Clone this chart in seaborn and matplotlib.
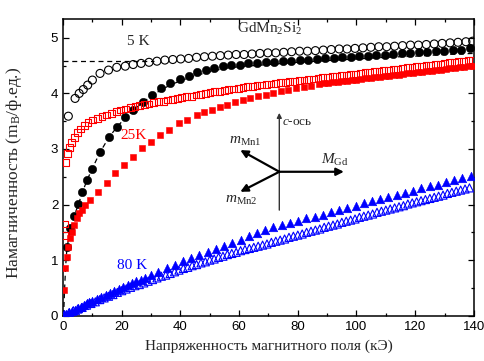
import numpy as np
import pandas as pd
import matplotlib
matplotlib.use("Agg")
import matplotlib.pyplot as plt
from matplotlib.ticker import MultipleLocator
import seaborn as sns

# ---------------- data ----------------
# 5 K, decreasing field (open circles)
x_5k_open = [1.8, 4.1, 5.5, 6.9, 8.4, 10.0, 12.6, 15.5, 18.3, 21.2, 23.9, 26.6, 29.3, 32.0,
             34.7, 37.4, 40.1, 42.8, 45.5, 48.2, 50.9, 53.6, 56.3, 59.0, 61.7, 64.4, 67.1,
             69.8, 72.5, 75.2, 77.9, 80.6, 83.3, 86.0, 88.7, 91.4, 94.1, 96.8, 99.5, 102.2,
             104.9, 107.6, 110.3, 113.0, 115.7, 118.4, 121.1, 123.8, 126.5, 129.2, 131.9,
             134.6, 137.3, 139.6]
y_5k_open = [3.59, 3.91, 4.00, 4.07, 4.15, 4.24, 4.36, 4.42, 4.47, 4.49, 4.52, 4.54, 4.56, 4.58,
             4.60, 4.61, 4.62, 4.63, 4.65, 4.66, 4.67, 4.68, 4.69, 4.70, 4.70, 4.71, 4.72,
             4.73, 4.73, 4.74, 4.75, 4.76, 4.76, 4.77, 4.78, 4.79, 4.80, 4.80, 4.81, 4.82,
             4.83, 4.84, 4.84, 4.85, 4.86, 4.87, 4.87, 4.88, 4.89, 4.90, 4.91,
             4.92, 4.93, 4.94]

# 5 K, increasing field (filled circles)
x_5k_fill = [1.3, 2.4, 3.7, 5.2, 6.6, 8.1, 9.8, 12.5, 15.5, 18.3, 21.2, 24.0, 27.2, 30.3,
             33.3, 36.5, 39.7, 42.8, 45.6, 48.7, 51.5, 54.5, 57.4, 60.3, 63.2, 66.1, 69.0,
             71.9, 74.8, 77.7, 80.6, 83.5, 86.4, 89.3, 92.2, 95.1, 98.0, 100.9, 103.8, 106.7,
             109.6, 112.5, 115.4, 118.3, 121.2, 124.1, 127.0, 129.9, 132.8, 135.7, 138.6]
y_5k_fill = [1.24, 1.57, 1.79, 2.01, 2.23, 2.44, 2.64, 2.94, 3.21, 3.40, 3.57, 3.71, 3.85, 3.98,
             4.09, 4.18, 4.26, 4.32, 4.38, 4.42, 4.45, 4.49, 4.51, 4.52, 4.54, 4.55, 4.56,
             4.57, 4.58, 4.59, 4.60, 4.61, 4.62, 4.63, 4.64, 4.65, 4.66, 4.67, 4.68, 4.69,
             4.70, 4.71, 4.72, 4.73, 4.74, 4.75, 4.76, 4.77, 4.78, 4.79, 4.81]

# 5 K fit curve (dashed)
x_fit = [0.2, 0.5, 0.9, 1.3, 2.4, 3.7, 5.2, 6.6, 8.1, 9.8, 12.5, 15.5, 18.3, 21.2, 24.0, 27.2,
         30.3, 33.3, 36.5, 39.7, 42.8, 45.6, 48.7, 51.5, 55.0, 60.0, 70.0, 80.0, 90.0, 100.0,
         110.0, 120.0, 130.0, 140.0]
y_fit = [0.0, 0.45, 0.90, 1.20, 1.55, 1.78, 2.00, 2.22, 2.43, 2.63, 2.93, 3.20, 3.39, 3.56, 3.70,
         3.84, 3.96, 4.06, 4.15, 4.22, 4.28, 4.33, 4.37, 4.41, 4.45, 4.48, 4.52, 4.56, 4.59,
         4.62, 4.65, 4.67, 4.70, 4.72]
# saturation level (dashed)
x_sat = [0.0, 31.0]
y_sat = [4.58, 4.58]

# 25 K, decreasing field (open squares)
x_25k_open = [0.5, 0.6, 1.0, 1.5, 2.2, 3.0, 3.9, 4.9, 6.0, 7.2, 8.5, 10.1, 11.7, 13.3, 14.9,
              16.5, 18.1, 19.7, 21.3, 22.9, 24.5, 26.1, 27.7, 29.3, 30.9, 32.5, 34.1, 35.7,
              37.3, 38.9, 40.5, 42.1, 43.7, 45.3, 46.9, 48.5, 50.1, 51.7, 53.3, 54.9, 56.5,
              58.1, 59.7, 61.3, 62.9, 64.5, 66.1, 67.7, 69.3, 70.9, 72.5, 74.1, 75.7, 77.3,
              78.9, 80.5, 82.1, 83.7, 85.3, 86.9, 88.5, 90.1, 91.7, 93.3, 94.9, 96.5, 98.1,
              99.7, 101.3, 102.9, 104.5, 106.1, 107.7, 109.3, 110.9, 112.5, 114.1, 115.7,
              117.3, 118.9, 120.5, 122.1, 123.7, 125.3, 126.9, 128.5, 130.1, 131.7, 133.3,
              134.9, 136.5, 138.1, 139.5]
y_25k_open = [1.45, 1.65, 2.75, 2.92, 3.03, 3.12, 3.21, 3.29, 3.36, 3.42, 3.47, 3.52, 3.55,
              3.58, 3.61, 3.64, 3.67, 3.70, 3.72, 3.74, 3.76, 3.78, 3.80, 3.81, 3.83, 3.85,
              3.86, 3.88, 3.89, 3.91, 3.92, 3.94, 3.95, 3.97, 3.98, 4.00, 4.01, 4.03, 4.04,
              4.05, 4.07, 4.08, 4.09, 4.10, 4.12, 4.13, 4.14, 4.15, 4.16, 4.17, 4.18, 4.19,
              4.20, 4.21, 4.22, 4.23, 4.24, 4.25, 4.26, 4.27, 4.28, 4.29, 4.30, 4.31, 4.32,
              4.33, 4.34, 4.35, 4.36, 4.37, 4.38, 4.39, 4.40, 4.41, 4.42, 4.43, 4.44, 4.45,
              4.46, 4.47, 4.48, 4.49, 4.50, 4.51, 4.52, 4.53, 4.54, 4.55, 4.56, 4.57, 4.58,
              4.59, 4.60]

# 25 K, increasing field (filled squares)
x_25k_fill = [0.3, 0.7, 1.3, 1.8, 2.4, 3.0, 3.8, 4.7, 5.6, 6.4, 7.5, 9.2, 12.0, 14.9, 17.7,
              20.8, 23.8, 26.9, 29.9, 33.1, 36.0, 39.4, 42.2, 45.6, 48.2, 50.8, 53.4, 56.0,
              58.6, 61.2, 63.8, 66.4, 69.0, 71.6, 74.2, 76.8, 79.4, 82.0, 84.6, 87.2, 88.8,
              90.4, 92.0, 93.6, 95.2, 96.8, 98.4, 100.0, 101.6, 103.2, 104.8, 106.4, 108.0,
              109.6, 111.2, 112.8, 114.4, 116.0, 117.6, 119.2, 120.8, 122.4, 124.0, 125.6,
              127.2, 128.8, 130.4, 132.0, 133.6, 135.2, 136.8, 138.4, 139.6]
y_25k_fill = [0.46, 0.85, 1.06, 1.24, 1.39, 1.51, 1.63, 1.75, 1.84, 1.91, 1.99, 2.08, 2.22,
              2.39, 2.56, 2.71, 2.86, 3.01, 3.13, 3.25, 3.35, 3.46, 3.53, 3.61, 3.66, 3.71,
              3.76, 3.80, 3.84, 3.88, 3.92, 3.95, 3.98, 4.01, 4.04, 4.07, 4.09, 4.12, 4.14,
              4.17, 4.18, 4.19, 4.20, 4.21, 4.22, 4.23, 4.24, 4.25, 4.26, 4.27, 4.28, 4.29,
              4.30, 4.31, 4.32, 4.33, 4.34, 4.35, 4.36, 4.37, 4.38, 4.39, 4.40, 4.41, 4.42,
              4.43, 4.44, 4.45, 4.46, 4.47, 4.48, 4.49, 4.50]

# 80 K, increasing field (filled triangles)
x_80k_fill = [0.3, 1, 2, 3, 4, 5, 6, 7, 8, 9, 10, 11.5, 13, 14.5, 16, 17.5, 19, 20.5, 22, 23.5,
              25, 26.5, 28, 30, 32.5, 35.3, 38.1, 40.9, 43.7, 46.5, 49.3, 52.1, 54.9, 57.7,
              60.5, 63.3, 66.1, 68.9, 71.7, 74.5, 77.3, 80.1, 82.9, 85.7, 88.5, 91.3, 94.1,
              96.9, 99.7, 102.5, 105.3, 108.1, 110.9, 113.7, 116.5, 119.3, 122.1, 124.9,
              127.7, 130.5, 133.3, 136.1, 138.9]
y_80k_fill = [0.01, 0.03, 0.06, 0.08, 0.11, 0.14, 0.16, 0.19, 0.22, 0.24, 0.27, 0.30, 0.34,
              0.37, 0.41, 0.44, 0.48, 0.51, 0.55, 0.58, 0.62, 0.65, 0.68, 0.73, 0.79, 0.85,
              0.92, 0.98, 1.03, 1.09, 1.15, 1.20, 1.26, 1.31, 1.37, 1.43, 1.49, 1.55, 1.59,
              1.63, 1.67, 1.71, 1.75, 1.78, 1.82, 1.86, 1.90, 1.94, 1.98, 2.02, 2.06, 2.10,
              2.14, 2.17, 2.21, 2.25, 2.29, 2.33, 2.36, 2.40, 2.44, 2.48, 2.52]

# 80 K, decreasing field (open triangles)
x_80k_open = [0.5, 2, 3.5, 5, 6.5, 8, 9.5, 11, 12.5, 14, 15.5, 17, 18.5, 20, 21.5, 23, 24.5, 26,
              27.5, 29, 30.5, 32, 33.5, 35, 36.5, 38, 39.5, 41, 42.5, 44, 45.5, 47, 48.5, 50,
              51.5, 53, 54.5, 56, 57.5, 59, 60.5, 62, 63.5, 65, 66.5, 68, 69.5, 71, 72.5, 74,
              75.5, 77, 78.5, 80, 81.5, 83, 84.5, 86, 87.5, 89, 90.5, 92, 93.5, 95, 96.5, 98,
              99.5, 101, 102.5, 104, 105.5, 107, 108.5, 110, 111.5, 113, 114.5, 116, 117.5,
              119, 120.5, 122, 123.5, 125, 126.5, 128, 129.5, 131, 132.5, 134, 135.5, 137,
              138.5]
y_80k_open = [0.02, 0.05, 0.09, 0.12, 0.15, 0.19, 0.22, 0.25, 0.29, 0.32, 0.35, 0.38, 0.42,
              0.45, 0.48, 0.51, 0.54, 0.56, 0.59, 0.62, 0.65, 0.68, 0.71, 0.73, 0.76, 0.79,
              0.82, 0.85, 0.87, 0.90, 0.92, 0.95, 0.97, 1.00, 1.02, 1.05, 1.07, 1.10, 1.12,
              1.14, 1.17, 1.19, 1.21, 1.23, 1.25, 1.27, 1.29, 1.32, 1.34, 1.36, 1.38, 1.41,
              1.43, 1.45, 1.47, 1.50, 1.52, 1.54, 1.56, 1.59, 1.61, 1.63, 1.65, 1.68, 1.70,
              1.72, 1.74, 1.77, 1.79, 1.81, 1.83, 1.86, 1.88, 1.90, 1.92, 1.94, 1.96, 1.98,
              2.01, 2.03, 2.05, 2.07, 2.09, 2.11, 2.13, 2.15, 2.17, 2.20, 2.22, 2.24, 2.26,
              2.28, 2.30]

x_ticks = [0, 20, 40, 60, 80, 100, 120, 140]
y_ticks = [0, 1, 2, 3, 4, 5]

# ---------------- style ----------------
sns.set_theme(style="ticks")
plt.rcParams["font.family"] = ["Liberation Serif", "DejaVu Serif"]
plt.rcParams["mathtext.fontset"] = "custom"
plt.rcParams["mathtext.rm"] = "Liberation Serif"
plt.rcParams["mathtext.it"] = "Liberation Serif:italic"
plt.rcParams["mathtext.bf"] = "Liberation Serif:bold"

fig = plt.figure(figsize=(4.85, 3.61), dpi=100)
ax = fig.add_axes([0.130, 0.1255, 0.847, 0.822])

BLACK, RED, BLUE = "#000000", "#ff0000", "#0000ff"

def line(x, y, **kw):
    sns.lineplot(x=x, y=y, ax=ax, sort=False, estimator=None, **kw)

def pts(x, y, marker, s, face, edge, lw=1.0):
    sns.scatterplot(x=x, y=y, ax=ax, marker=marker, s=s, color=edge,
                    facecolor=face, edgecolor=edge, linewidth=lw, zorder=3)

# 5 K
pts(x_5k_open, y_5k_open, "o", 33, "none", BLACK, 0.8)
line(x_sat, y_sat, color=BLACK, linestyle=(0, (4, 3)), linewidth=0.9)
line(x_fit, y_fit, color=BLACK, linestyle=(0, (4, 3)), linewidth=0.9)
pts(x_5k_fill, y_5k_fill, "o", 36, BLACK, BLACK, 0.4)
# 25 K
pts(x_25k_fill, y_25k_fill, "s", 24, RED, RED, 0.4)
pts(x_25k_open, y_25k_open, "s", 24, "none", RED, 0.8)
# 80 K
pts(x_80k_fill, y_80k_fill, "^", 38, BLUE, BLUE, 0.4)
pts(x_80k_open, y_80k_open, "^", 34, "none", BLUE, 0.8)

# axes
ax.set_xlim(0, 140)
ax.set_ylim(0, 5.34)
ax.set_xticks(x_ticks)
ax.set_yticks(y_ticks)
ax.xaxis.set_minor_locator(MultipleLocator(10))
ax.yaxis.set_minor_locator(MultipleLocator(0.5))
ax.tick_params(which="both", direction="in", top=True, right=True, colors="black",
               labelsize=9.5)
ax.tick_params(which="major", length=4, width=0.9)
ax.tick_params(which="minor", length=2.5, width=0.9)
for lab in ax.get_xticklabels() + ax.get_yticklabels():
    lab.set_fontfamily("Liberation Sans")
for sp in ax.spines.values():
    sp.set_linewidth(1.1)
    sp.set_color("black")
ax.set_xlabel("Напряженность магнитного поля (кЭ)", fontsize=11, labelpad=5)
ax.set_ylabel(r"Намагниченность (m$_\mathrm{B}$/ф.ед.)", fontsize=12.5)
ax.yaxis.set_label_coords(-0.095, 0.48)

# annotations
ax.text(70.3, 5.16, r"GdMn$_2$Si$_2$", fontsize=11, ha="center", va="center")
ax.text(25.6, 4.93, "5 K", fontsize=11, ha="center", va="center")
ax.text(23.9, 3.25, "25K", fontsize=11, ha="center", va="center", color=RED)
ax.text(23.4, 0.91, "80 K", fontsize=11, ha="center", va="center", color=BLUE)

# moment diagram
cx, cy = 73.7, 2.59
ax.annotate("", xy=(cx, 3.65), xytext=(cx, 1.90),
            arrowprops=dict(arrowstyle="-|>", color="#333333", lw=1.0,
                            mutation_scale=7, shrinkA=0, shrinkB=0))
for ex, ey in [(95.7, 2.59), (60.4, 2.98), (60.4, 2.23)]:
    ax.annotate("", xy=(ex, ey), xytext=(cx, cy),
                arrowprops=dict(arrowstyle="-|>", color="black", lw=1.6,
                                mutation_scale=11, shrinkA=0, shrinkB=0))
ax.text(74.7, 3.49, r"$c$-ось", fontsize=9.5, ha="left", va="center")
ax.text(62.1, 3.14, r"$m_{\mathrm{Mn1}}$", fontsize=11, ha="center", va="center")
ax.text(92.5, 2.80, r"$M_{\mathrm{Gd}}$", fontsize=11, ha="center", va="center")
ax.text(60.7, 2.08, r"$m_{\mathrm{Mn2}}$", fontsize=11, ha="center", va="center")

fig.savefig("out.png", dpi=100)
